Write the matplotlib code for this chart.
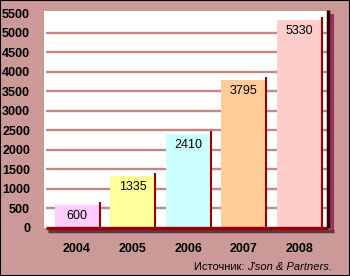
import matplotlib
matplotlib.use("Agg")
import matplotlib.pyplot as plt
from matplotlib.patches import Rectangle
from matplotlib import transforms

# data
years = ["2004", "2005", "2006", "2007", "2008"]
values = [600, 1335, 2410, 3795, 5330]
bar_colors = ["#FFCCFF", "#FFFF99", "#CCFFFF", "#FFCC99", "#FFCCCC"]
yticks = [0, 500, 1000, 1500, 2000, 2500, 3000, 3500, 4000, 4500, 5000, 5500]
source_prefix = "Источник: "
source_name = "J'son & Partners."

bg = "#CC9999"
plt.rcParams['font.family'] = ['Liberation Sans', 'DejaVu Sans']

fig = plt.figure(figsize=(3.5, 2.76), dpi=100)
fig.patch.set_facecolor(bg)

ax = fig.add_axes([44/350, 48/276, 284/350, 217/276])
ax.set_facecolor("white")
xs = list(range(len(years)))
w = 0.81
ax.set_xlim(-0.595, 4.52)
ax.set_ylim(0, 5560)

# gridlines (not at 0 and 5500)
ax.hlines(yticks[1:-1], -0.56, 4.52, colors="#C28888", linewidths=1.7, zorder=1.5)

ax.bar(xs, values, width=w, color=bar_colors, zorder=2)
# dark red edge on the right of each bar
ax.vlines([x + w/2 for x in xs], 0, [v + 70 for v in values], color="#990000",
          linewidth=1.5, zorder=3)

for x, v in zip(xs, values):
    ax.annotate(str(v), (x, v), xytext=(0, -8), textcoords="offset points",
                ha="center", va="center", fontsize=9, color="black", zorder=4)

for s in ax.spines.values():
    s.set_visible(False)

# shadowed bottom and right edges
px = 0.72
sh = transforms.offset_copy(ax.transData, fig=fig, x=2*px, y=-3*px, units="points")
ax.plot([-0.56, 4.52 + 0.07], [0, 0], color="#663344", linewidth=2.5, transform=sh,
        clip_on=False, zorder=4, solid_capstyle="butt")
ax.plot([-0.56, 4.52], [0, 0], color="#990000", linewidth=2.4, clip_on=False,
        zorder=5, solid_capstyle="butt")
shr = transforms.offset_copy(ax.transData, fig=fig, x=4*px, y=-2*px, units="points")
ax.plot([4.52, 4.52], [0, 5540], color="#993366", linewidth=3, transform=shr,
        clip_on=False, zorder=4, solid_capstyle="butt")
ax.plot([4.52, 4.52], [0, 5580], color="#330000", linewidth=2.5, clip_on=False,
        zorder=5, solid_capstyle="butt")

ax.set_yticks(yticks)
ax.set_yticklabels([str(t) for t in yticks], fontsize=9, fontweight="bold")
ax.set_xticks(xs)
ax.set_xticklabels(years, fontsize=9, fontweight="bold")
ax.tick_params(axis="y", length=0, pad=10)
ax.tick_params(axis="x", length=0, pad=11)

name = fig.text(332/350, 1 - 267/276, source_name, ha="right", va="center",
                fontsize=8, style="italic")
t = fig.text(332/350, 1 - 267/276, source_prefix, ha="right", va="center", fontsize=8)
fig.canvas.draw()
r = fig.canvas.get_renderer()
name_w = name.get_window_extent(r).width
t.set_position((332/350 - name_w/350, 1 - 267/276))

# thin black frame round the picture
fig.add_artist(Rectangle((0, 0), 1, 1, transform=fig.transFigure, fill=False,
                         edgecolor="black", linewidth=1.5, zorder=10))

fig.savefig("out.png", dpi=100, facecolor=bg)
